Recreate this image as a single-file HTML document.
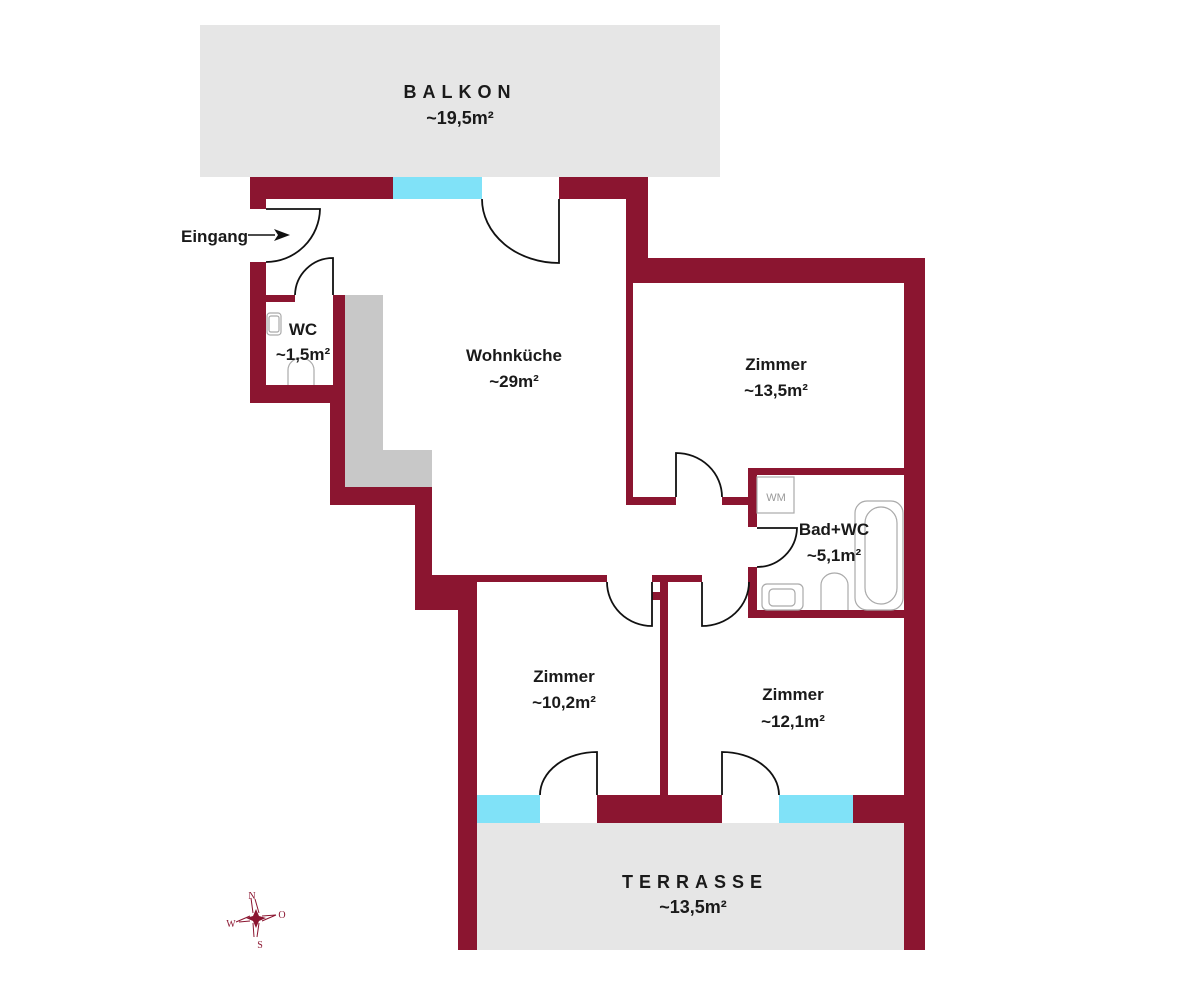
<!DOCTYPE html>
<html><head><meta charset="utf-8"><style>
html,body{margin:0;padding:0;background:#fff;}
svg{display:block}
text{font-family:"Liberation Sans",sans-serif;font-weight:bold;fill:#1a1a1a;}
text.c{font-family:"Liberation Serif",serif;font-weight:normal;fill:#8b1530;font-size:10px;}
</style></head><body>
<svg width="1200" height="1000" viewBox="0 0 1200 1000" xmlns="http://www.w3.org/2000/svg">
<rect x="200" y="25" width="520" height="152" fill="#e6e6e6"/>
<rect x="477" y="823" width="428" height="127" fill="#e6e6e6"/>
<rect x="345" y="295" width="38" height="192" fill="#c8c8c8"/>
<rect x="345" y="450" width="87" height="37" fill="#c8c8c8"/>
<g fill="#8b1530">
<rect x="250" y="177" width="143" height="22"/>
<rect x="559" y="177" width="89" height="22"/>
<rect x="626" y="177" width="22" height="106"/>
<rect x="626" y="258" width="299" height="25"/>
<rect x="904" y="258" width="21" height="692"/>
<rect x="250" y="177" width="16" height="32"/>
<rect x="250" y="262" width="16" height="141"/>
<rect x="266" y="295" width="29" height="7"/>
<rect x="333" y="295" width="12" height="108"/>
<rect x="250" y="385" width="95" height="18"/>
<rect x="330" y="385" width="15" height="120"/>
<rect x="330" y="487" width="102" height="18"/>
<rect x="415" y="487" width="17" height="123"/>
<rect x="415" y="575" width="62" height="35"/>
<rect x="458" y="575" width="19" height="375"/>
<rect x="432" y="575" width="175" height="7"/>
<rect x="652" y="575" width="50" height="7"/>
<rect x="660" y="582" width="8" height="213"/>
<rect x="652" y="592" width="8" height="8"/>
<rect x="626" y="283" width="7" height="222"/>
<rect x="626" y="497" width="50" height="8"/>
<rect x="722" y="497" width="27" height="8"/>
<rect x="748" y="468" width="177" height="7"/>
<rect x="748" y="468" width="9" height="59"/>
<rect x="748" y="567" width="9" height="51"/>
<rect x="748" y="610" width="177" height="8"/>
<rect x="597" y="795" width="125" height="28"/>
<rect x="853" y="795" width="52" height="28"/>
</g>
<g fill="#80e2f8">
<rect x="393" y="177" width="89" height="22"/>
<rect x="477" y="795" width="63" height="28"/>
<rect x="779" y="795" width="74" height="28"/>
</g>
<g fill="none" stroke="#111" stroke-width="1.8">
<path d="M266 209 L320 209 A54 54 0 0 1 266 262"/>
<path d="M559 199 L559 263 A77 64 0 0 1 482 199"/>
<path d="M333 295 L333 258 A38 38 0 0 0 295 295"/>
<path d="M676 497 L676 453 A46 44 0 0 1 722 497"/>
<path d="M757 528 L797 528 A40 40 0 0 1 757 567"/>
<path d="M652 582 L652 626 A45 44 0 0 1 607 582"/>
<path d="M702 582 L702 626 A47 44 0 0 0 749 582"/>
<path d="M597 795 L597 752 A57 43 0 0 0 540 795"/>
<path d="M722 795 L722 752 A57 43 0 0 1 779 795"/>
</g>
<line x1="248" y1="235" x2="275" y2="235" stroke="#111" stroke-width="1.5"/>
<polygon points="290,235 274,229 278,235 274,241" fill="#111"/>
<g fill="none" stroke="#aaa" stroke-width="1.2">
<rect x="757" y="477" width="37" height="36"/>
<rect x="855" y="501" width="48" height="109" rx="12"/>
<rect x="865" y="507" width="32" height="97" rx="16"/>
<path d="M821 610 L821 585 A13.5 12 0 0 1 848 585 L848 610"/>
<rect x="762" y="584" width="41" height="26" rx="5"/>
<rect x="769" y="589" width="26" height="17" rx="4"/>
<rect x="267" y="313" width="14" height="22" rx="3"/>
<rect x="269" y="316" width="10" height="16" rx="2"/>
<path d="M288 385 L288 370 A13 12 0 0 1 314 370 L314 385"/>
</g>
<text x="776" y="501" font-size="11" text-anchor="middle" style="font-weight:normal;fill:#999">WM</text>
<text x="181" y="242" font-size="17">Eingang</text>
<text x="460" y="98" font-size="18" letter-spacing="6" text-anchor="middle" fill="#333">BALKON</text>
<text x="460" y="124" font-size="18" text-anchor="middle" fill="#333">~19,5m²</text>
<text x="695" y="888" font-size="18" letter-spacing="6" text-anchor="middle" fill="#333">TERRASSE</text>
<text x="693" y="913" font-size="18" text-anchor="middle" fill="#333">~13,5m²</text>
<text x="303" y="335" font-size="17" text-anchor="middle">WC</text>
<text x="303" y="360" font-size="17" text-anchor="middle">~1,5m²</text>
<text x="514" y="361" font-size="17" text-anchor="middle">Wohnküche</text>
<text x="514" y="387" font-size="17" text-anchor="middle">~29m²</text>
<text x="776" y="370" font-size="17" text-anchor="middle">Zimmer</text>
<text x="776" y="396" font-size="17" text-anchor="middle">~13,5m²</text>
<text x="834" y="535" font-size="17" text-anchor="middle">Bad+WC</text>
<text x="834" y="561" font-size="17" text-anchor="middle">~5,1m²</text>
<text x="564" y="682" font-size="17" text-anchor="middle">Zimmer</text>
<text x="564" y="708" font-size="17" text-anchor="middle">~10,2m²</text>
<text x="793" y="700" font-size="17" text-anchor="middle">Zimmer</text>
<text x="793" y="727" font-size="17" text-anchor="middle">~12,1m²</text>
<g transform="translate(256,918)">
<polygon points="0,-9 3,-2 10,0 3,3 0,10 -3,3 -10,0 -3,-2" fill="#8b1530"/>
<g stroke="#8b1530" fill="none" stroke-width="1">
<path d="M-3,-5 L-5,-20 M3,-5 L-1,-19"/>
<path d="M-6,-2 L-20,4 M-6,3 L-17,4"/>
<path d="M6,-2 L20,-3 M6,3 L20,-3"/>
<path d="M-3,5 L-2,19 M3,5 L1,19"/>
</g>
<text class="c" x="-4" y="-19" text-anchor="middle">N</text>
<text class="c" x="-25" y="9" text-anchor="middle">W</text>
<text class="c" x="26" y="0" text-anchor="middle">O</text>
<text class="c" x="4" y="30" text-anchor="middle">S</text>
</g>
</svg>
</body></html>
